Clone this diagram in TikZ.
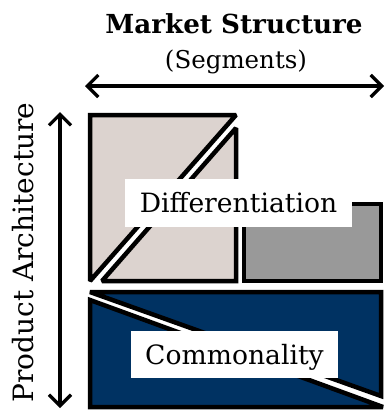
\documentclass[tikz,border=0pt]{standalone}
\usepackage{fontspec}
\setmainfont{DejaVu Serif}
\usetikzlibrary{arrows.meta}
\definecolor{diffpink}{RGB}{220,211,207}
\definecolor{diffgray}{RGB}{153,153,153}
\definecolor{commblue}{RGB}{0,50,98}
\begin{document}
\begin{tikzpicture}[x=1pt,y=-1pt,
  block/.style={draw=black,line width=4.5pt,line join=miter,miter limit=2},
  axis/.style={line width=3.2pt,{Straight Barb[length=11pt,width=22pt,line width=3.2pt]}-{Straight Barb[length=11pt,width=22pt,line width=3.2pt]}},
  label/.style={fill=white,inner sep=0pt,text height=19pt,text depth=0pt,font=\fontsize{26.6}{32}\selectfont}]
\useasboundingbox (0,0) rectangle (384,410);
% differentiation blocks
\draw[block,fill=diffpink] (90,115) -- (236,115) -- (90,281) -- cycle;
\draw[block,fill=diffpink] (236,128) -- (236,281) -- (102,281) -- cycle;
\draw[block,fill=diffgray] (244,204) rectangle (381,281);
% commonality blocks
\draw[block,fill=commblue] (90,292) -- (381,292) -- (381,396) -- cycle;
\draw[block,fill=commblue] (90,300) -- (90,407) -- (383,407) -- cycle;
% labels
\node[label,minimum width=227pt,minimum height=48pt] (diff) at (238.5,203) {Differentiation};
\node[label,minimum width=207pt,minimum height=47pt] (comm) at (234.5,354.5) {Commonality};
% axes
\coordinate (hl) at (85,86);
\coordinate (hr) at (384,86);
\coordinate (vt) at (60,112);
\coordinate (vb) at (60,408);
\draw[axis] (hl) -- (hr);
\draw[axis] (vt) -- (vb);
\node[font=\bfseries\fontsize{26.2}{30}\selectfont,anchor=base] (market) at (234,33) {Market Structure};
\node[font=\fontsize{24.5}{28}\selectfont,anchor=base] (segments) at (236,68) {(Segments)};
\node[font=\fontsize{28}{32}\selectfont,anchor=base,rotate=90] (prod) at (34,252.5) {Product Architecture};
\end{tikzpicture}
\end{document}
